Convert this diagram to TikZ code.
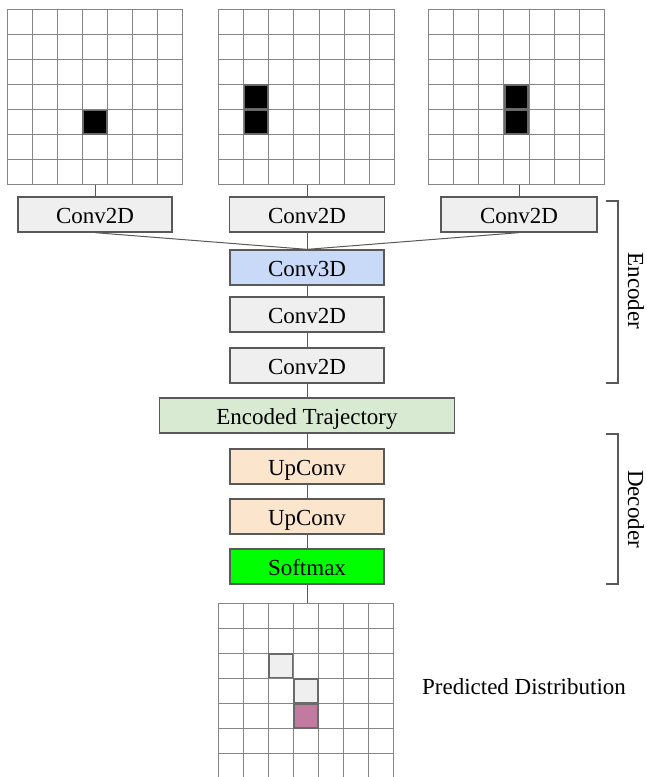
\documentclass[tikz,border=0pt]{standalone}
\usepackage{fontspec}
\setmainfont{Liberation Serif}
\definecolor{bordc}{HTML}{595959}
\definecolor{gridc}{HTML}{858585}
\definecolor{lgray}{HTML}{EFEFEF}
\definecolor{lblue}{HTML}{C9DAF8}
\definecolor{lgreen}{HTML}{D9EAD3}
\definecolor{lorange}{HTML}{FCE5CD}
\definecolor{brightgreen}{HTML}{00FF00}
\definecolor{lmagenta}{HTML}{C27BA0}
\newcommand\mygrid[2]{%
  \foreach \i in {0,...,7}{%
    \draw[gridline] ({#1+\i*25.14},#2) -- ({#1+\i*25.14},{#2+175.98});
    \draw[gridline] (#1,{#2+\i*25.14}) -- ({#1+175.98},{#2+\i*25.14});
  }}
\newcommand\mycell[5]{%
  \draw[cellbox,fill=#5] ({#1+#3*25.14+0.8},{#2+#4*25.14+0.8}) rectangle ++(23.54,23.54);}
\begin{document}
\begin{tikzpicture}[x=1pt,y=-1pt,
  font=\fontsize{23}{27}\selectfont,
  gridline/.style={draw=gridc,line width=1pt},
  cellbox/.style={draw=bordc!90,line width=1.6pt},
  layer/.style={draw=bordc,line width=1.3pt,minimum height=35pt,inner sep=0pt,
    text height=17pt,text depth=0pt,fill=lgray},
  wide/.style={layer,minimum width=154pt},
  link/.style={draw=bordc,line width=1pt},
  brack/.style={draw=bordc,line width=1.3pt},
]
\useasboundingbox (0,0) rectangle (647,777);
\clip (0,0) rectangle (647,777);
% input grids
\mygrid{7}{9}
\mygrid{218.5}{9}
\mygrid{428.5}{9}
\mycell{7}{9}{3}{4}{black}
\mycell{218.5}{9}{1}{3}{black}
\mycell{218.5}{9}{1}{4}{black}
\mycell{428.5}{9}{3}{3}{black}
\mycell{428.5}{9}{3}{4}{black}
\coordinate (g1) at (95,185);
\coordinate (g2) at (307,185);
\coordinate (g3) at (519,185);
% layers
\node[wide] (c1) at (95,214.5) {Conv2D};
\node[wide,minimum width=155pt] (c2) at (307,214.5) {Conv2D};
\node[wide,minimum width=156pt] (c3) at (519,214.5) {Conv2D};
\node[wide,fill=lblue] (c3d) at (307,267.5) {Conv3D};
\node[wide] (c2b) at (307,314.5) {Conv2D};
\node[wide] (c2c) at (307,365.5) {Conv2D};
\node[layer,fill=lgreen,minimum width=295pt] (enc) at (307,415.5) {Encoded Trajectory};
\node[wide,fill=lorange] (up1) at (307,466.5) {UpConv};
\node[wide,fill=lorange] (up2) at (307,516.5) {UpConv};
\node[wide,fill=brightgreen] (soft) at (307,566.5) {Softmax};
% output grid
\mygrid{218}{603}
\mycell{218}{603}{2}{2}{lgray}
\mycell{218}{603}{3}{3}{lgray}
\mycell{218}{603}{3}{4}{lmagenta}
\coordinate (out) at (307,603);
% connectors
\draw[link] (g1) -- (c1.north);
\draw[link] (g2) -- (c2.north);
\draw[link] (g3) -- (c3.north);
\draw[link] (c1.south) -- (c3d.north);
\draw[link] (c2.south) -- (c3d.north);
\draw[link] (c3.south) -- (c3d.north);
\draw[link] (c3d.south) -- (c2b.north);
\draw[link] (c2b.south) -- (c2c.north);
\draw[link] (c2c.south) -- (enc.north);
\draw[link] (enc.south) -- (up1.north);
\draw[link] (up1.south) -- (up2.north);
\draw[link] (up2.south) -- (soft.north);
\draw[link] (soft.south) -- (out);
% brackets
\draw[brack] (606,201) -- (618,201) -- (618,383) -- (606,383);
\draw[brack] (606,434) -- (618,434) -- (618,584) -- (606,584);
\node[rotate=-90] (enclab) at (636,291) {Encoder};
\node[rotate=-90] (declab) at (636,509) {Decoder};
\node (pred) at (524,687) {Predicted Distribution};
\end{tikzpicture}
\end{document}
